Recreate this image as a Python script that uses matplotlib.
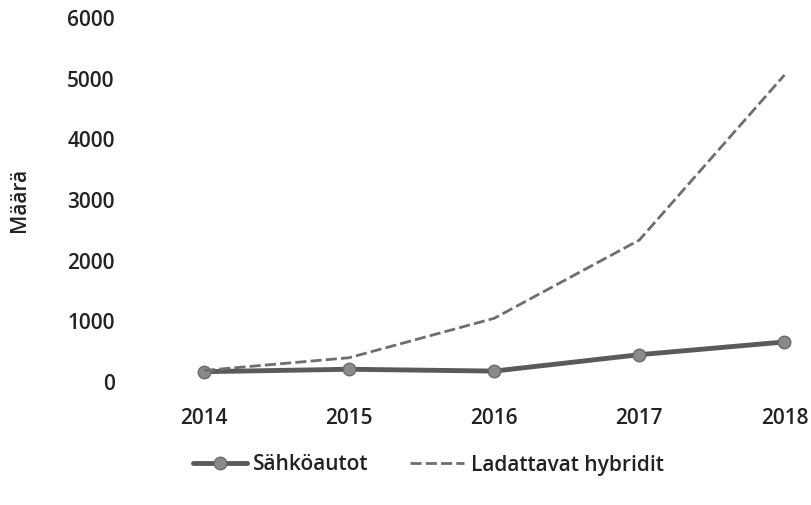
import matplotlib.pyplot as plt

vuodet = [2014, 2015, 2016, 2017, 2018]
sahkoautot = [170, 210, 180, 450, 660]
hybridit = [190, 400, 1050, 2340, 5060]
y_ticks = [0, 1000, 2000, 3000, 4000, 5000, 6000]

plt.rcParams['font.family'] = ['Open Sans', 'DejaVu Sans']

fig = plt.figure(figsize=(8.12, 5.05), dpi=100)
ax = fig.add_axes([130/812, 123/505, 682/812, 364/505])

ax.plot(vuodet, sahkoautot, color="#5a5a5a", linewidth=3.5, marker="o",
        markersize=9, markerfacecolor="#8a8a8a", markeredgecolor="#6a6a6a",
        label="Sähköautot", solid_capstyle="round")
ax.plot(vuodet, hybridit, color="#6e6e6e", linewidth=2, linestyle=(0, (4, 1.5)),
        label="Ladattavat hybridit")

ax.set_xlim(2013.49, 2018.19)
ax.set_ylim(0, 6000)
ax.set_xticks(vuodet)
ax.set_yticks(y_ticks)
ax.tick_params(axis="x", length=0, pad=19, labelsize=15, labelcolor="#222222")
ax.tick_params(axis="y", length=0, pad=11, labelsize=15, labelcolor="#222222")
for lbl in ax.get_xticklabels() + ax.get_yticklabels():
    lbl.set_fontweight("semibold")
for s in ax.spines.values():
    s.set_visible(False)

ax.set_ylabel("Määrä", fontsize=15, color="#222222", fontweight="semibold")
ax.yaxis.set_label_coords(-100/682, 0.5)

leg = ax.legend(loc="center", bbox_to_anchor=(428/812, 40/505), bbox_transform=fig.transFigure,
                ncol=2, frameon=False, handlelength=2.6, columnspacing=2.0,
                handletextpad=0.3, prop={"size": 15, "weight": "semibold"})
for t in leg.get_texts():
    t.set_color("#222222")

fig.savefig("out.png", dpi=100)
